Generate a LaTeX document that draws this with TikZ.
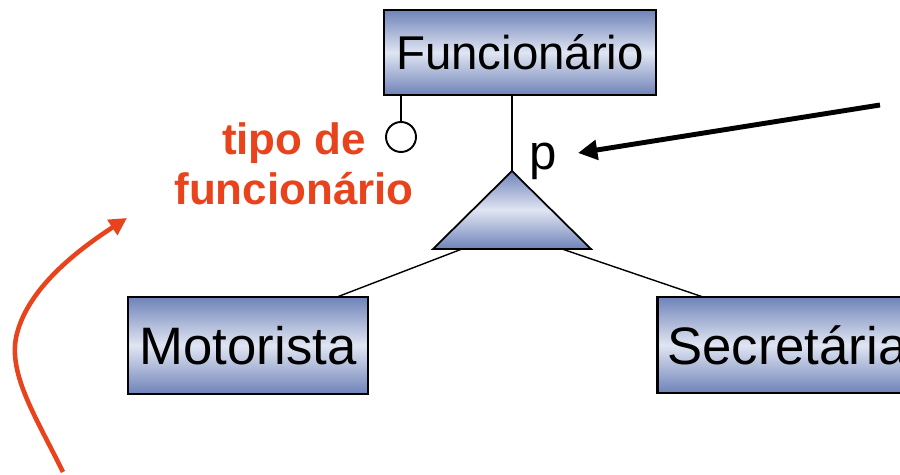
\documentclass[tikz,border=0pt]{standalone}
\usepackage{fontspec}
\setmainfont{Liberation Sans}
\usetikzlibrary{arrows.meta}
\definecolor{bdark}{HTML}{6F83B9}
\definecolor{blight}{HTML}{E0E5F2}
\definecolor{orng}{HTML}{E8431C}
\tikzset{
  entbox/.style={draw=black, line width=1.5pt, top color=bdark, bottom color=bdark, middle color=blight, inner sep=0pt, font=\fontsize{27}{30}\selectfont},
  bigfont/.style={font=\fontsize{30}{33}\selectfont},
  conn/.style={line width=0.8pt},
  bigarrow/.style={line width=2.8pt, -{Triangle[length=11pt,width=11pt]}},
  orarrow/.style={draw=orng, line width=2.6pt, -{Triangle[length=10pt,width=10pt]}},
}
\begin{document}
\begin{tikzpicture}[x=0.02cm,y=-0.02cm]
\clip (0,0) rectangle (900,475);
\fill[white] (0,0) rectangle (900,475);
% entities
\node[entbox, minimum width=272*0.02cm, minimum height=85*0.02cm] (func) at (520,52.5) {Funcion\'ario};
\node[entbox, bigfont, minimum width=240*0.02cm, minimum height=97*0.02cm] (mot) at (248,345.5) {Motorista};
\node[entbox, bigfont, anchor=west, text width=4.9cm, align=left, inner xsep=10*0.02cm, minimum height=96*0.02cm] (sec) at (656,345) {Secret\'aria};
% triangle
\coordinate (apex) at (512,171);
\coordinate (bl) at (433,249);
\coordinate (br) at (591,249);
\draw[line width=1pt, top color=bdark, bottom color=bdark, middle color=blight] (apex) -- (bl) -- (br) -- cycle;
\coordinate (fdown) at (512,95);
\draw[conn] (fdown) -- (apex);
\coordinate (tl) at (462,249);
\coordinate (tr) at (562,249);
\coordinate (mtop) at (337,297);
\coordinate (stop) at (703,297);
\draw[conn] (tl) -- (mtop);
\draw[conn] (tr) -- (stop);
% attribute circle
\node[draw, circle, line width=1.1pt, minimum size=30*0.02cm, inner sep=0pt] (attr) at (401,137) {};
\coordinate (fattr) at (401,95);
\draw[conn] (fattr) -- (attr.north);
% p
\node[font=\fontsize{28}{30}\selectfont, anchor=base] (p) at (543,170) {p};
% black arrow
\coordinate (bstart) at (880,105);
\coordinate (bend) at (578,153);
\draw[bigarrow] (bstart) -- (bend);
% orange label
\node[text=orng, font=\bfseries\fontsize{25}{28.5}\selectfont, align=center] (lbl) at (294,164) {tipo de\\funcion\'ario};
% orange arrow
\coordinate (ostart) at (63,472);
\coordinate (omid) at (18,330);
\coordinate (otip) at (127,218);
\draw[orarrow] (ostart) .. controls (35,415) and (5,370) .. (omid) .. controls (30,290) and (70,255) .. (otip);
\end{tikzpicture}
\end{document}
